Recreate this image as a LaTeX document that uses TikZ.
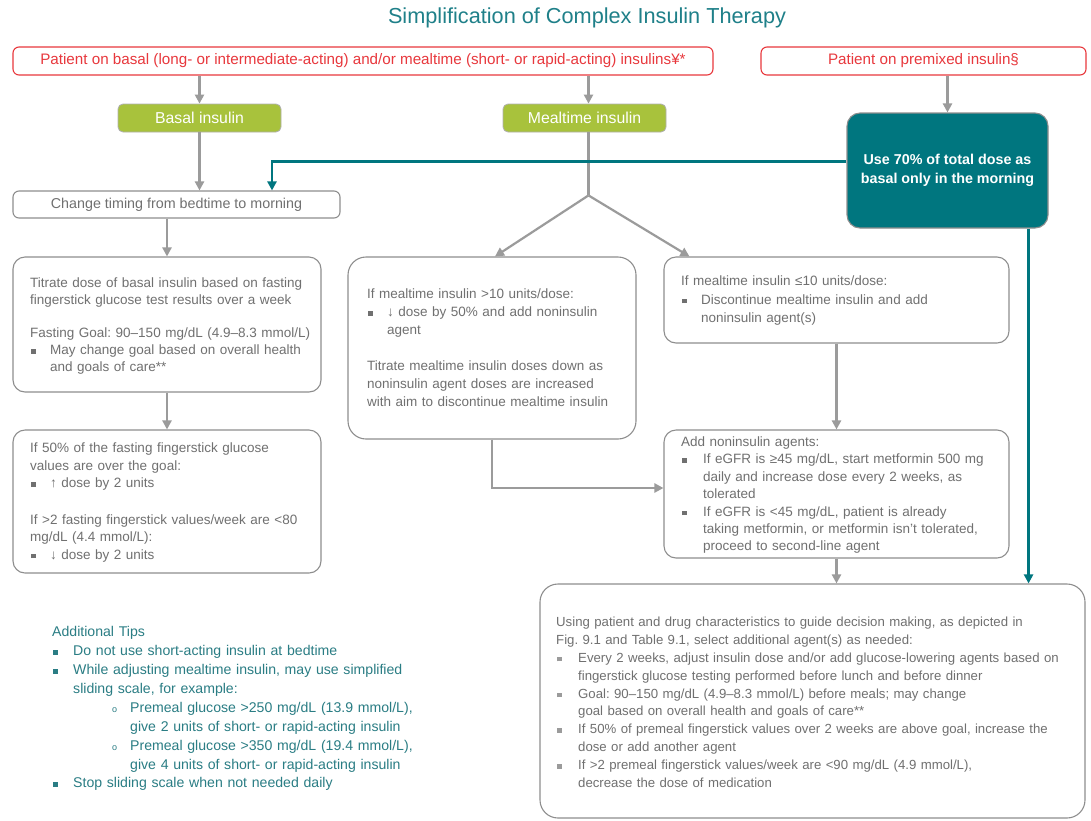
\documentclass[tikz,border=0pt]{standalone}
\usepackage{fontspec}
\setmainfont{Liberation Sans}
\usetikzlibrary{arrows.meta,calc}
\frenchspacing
\definecolor{tealc}{HTML}{00767F}
\definecolor{titlec}{HTML}{1F8089}
\definecolor{redc}{HTML}{E8383D}
\definecolor{greenc}{HTML}{A8C23C}
\definecolor{grayb}{HTML}{8E8E8E}
\definecolor{grayt}{HTML}{707070}
\definecolor{arrowc}{HTML}{9B9B9B}
\definecolor{tipc}{HTML}{2A7D84}
\newlength\bind
\setlength\bind{20pt}
\newcommand\bsq[1][grayt]{\textcolor{#1}{\rule[1pt]{4.5pt}{4.5pt}}}
\newcommand\bitem[2][grayt]{\par\hangindent=\bind\hangafter=1\noindent\makebox[\bind][l]{\hspace{1pt}\bsq[#1]}#2\par}
\newcommand\sitem[1]{\par\hangindent=78pt\hangafter=1\noindent\hspace*{60pt}\makebox[18pt][l]{\fontsize{9}{9}\selectfont o}#1\par}
\newcommand\bx[7]{\node[#1, minimum width={#5-#3}, minimum height={#6-#4}, inner sep=0pt] (#2) at ({(#3+#5)/2},{(#4+#6)/2}) {#7};}
\begin{document}
\begin{tikzpicture}[x=1pt,y=-1pt,
  gbox/.style={draw=grayb, line width=1.1pt, rounded corners=#1, fill=white},
  gbox/.default=12pt,
  rbox/.style={draw=redc, line width=1.1pt, rounded corners=6pt, fill=white, text=redc, font=\fontsize{15.2}{18}\selectfont},
  grbox/.style={draw=grayb!70, line width=0.8pt, rounded corners=5pt, fill=greenc, text=white, font=\fontsize{15.8}{18}\selectfont},
  tbox/.style={draw=grayb, line width=1.1pt, rounded corners=13pt, fill=tealc, text=white, align=center, font=\bfseries\fontsize{14.3}{19}\selectfont},
  txt/.style={anchor=north west, inner sep=0pt, text width=#1, align=left, text=grayt, execute at begin node={\setlength{\parindent}{0pt}}},
  arr/.style={draw=arrowc, line width=2.2pt, -{Triangle[width=9pt,length=9pt]}},
  tarr/.style={draw=tealc, line width=2.8pt, -{Triangle[width=9pt,length=9pt]}}
]
\useasboundingbox[fill=white] (0,0) rectangle (1091,820);

\node[text=titlec, font=\fontsize{21.7}{26}\selectfont] (title) at (587,18) {Simplification of Complex Insulin Therapy};

\bx{rbox}{A}{13}{47}{713}{75}{Patient on basal (long- or intermediate-acting) and/or mealtime (short- or rapid-acting) insulins¥*}
\bx{rbox}{B}{761}{47}{1086}{75}{Patient on premixed insulin§}
\bx{grbox}{basal}{118}{104}{281}{132}{Basal insulin}
\bx{grbox}{meal}{503}{104}{666}{132}{Mealtime insulin}
\bx{tbox}{teal}{847}{113}{1048}{228}{Use 70\% of total dose as\\basal only in the morning}
\bx{gbox=6pt, font=\fontsize{14.3}{16}\selectfont, text=grayt}{change}{13}{191}{340}{218}{Change timing from bedtime to morning}
\bx{gbox}{titrate}{13}{257}{321}{392}{}
\bx{gbox}{fifty}{13}{430}{321}{573}{}
\bx{gbox=18pt}{mid}{348}{257}{636}{439}{}
\bx{gbox}{right1}{664}{257}{1009}{343}{}
\bx{gbox}{add}{664}{430}{1009}{558}{}
\bx{gbox=18pt}{bottom}{540}{584}{1085}{818}{}

% texts
\node[txt=300pt, font=\fontsize{13.5}{17}\selectfont] (ttitrate) at (30,277.6) {Titrate dose of basal insulin based on fasting\newline fingerstick glucose test results over a week\par\vspace{16pt}Fasting Goal: 90–150 mg/dL (4.9–8.3 mmol/L)\bitem{May change goal based on overall health\newline and goals of care**}};

\node[txt=300pt, font=\fontsize{13.5}{17.5}\selectfont] (tfifty) at (30,442.6) {If 50\% of the fasting fingerstick glucose\newline values are over the goal:\bitem{↑ dose by 2 units}\vspace{19pt}If >2 fasting fingerstick values/week are <80\newline mg/dL (4.4 mmol/L):\bitem{↓ dose by 2 units}};

\node[txt=300pt, font=\fontsize{13.5}{18}\selectfont] (tmid) at (367,288.6) {If mealtime insulin >10 units/dose:\bitem{↓ dose by 50\% and add noninsulin\newline agent}\vspace{18pt}Titrate mealtime insulin doses down as\newline noninsulin agent doses are increased\newline with aim to discontinue mealtime insulin};

\node[txt=330pt, font=\fontsize{13.5}{18.5}\selectfont] (tright1) at (681,275.6) {If mealtime insulin ≤10 units/dose:\bitem{Discontinue mealtime insulin and add\newline noninsulin agent(s)}};

\node[txt=330pt, font=\fontsize{13.5}{17.4}\selectfont, execute at begin node={\setlength{\parindent}{0pt}\setlength{\bind}{22pt}}] (tadd) at (681,436.6) {Add noninsulin agents:\bitem{If eGFR is ≥45 mg/dL, start metformin 500 mg\newline daily and increase dose every 2 weeks, as\newline tolerated}\bitem{If eGFR is <45 mg/dL, patient is already\newline taking metformin, or metformin isn't tolerated,\newline proceed to second-line agent}};

\node[txt=520pt, font=\fontsize{13.2}{17.9}\selectfont, execute at begin node={\setlength{\parindent}{0pt}\setlength{\bind}{22pt}}] (tbottom) at (556,616.7) {Using patient and drug characteristics to guide decision making, as depicted in\newline Fig. 9.1 and Table 9.1, select additional agent(s) as needed:\bitem[grayt!70]{Every 2 weeks, adjust insulin dose and/or add glucose-lowering agents based on\newline fingerstick glucose testing performed before lunch and before dinner}\bitem[grayt!70]{Goal: 90–150 mg/dL (4.9–8.3 mmol/L) before meals; may change\newline goal based on overall health and goals of care**}\bitem[grayt!70]{If 50\% of premeal fingerstick values over 2 weeks are above goal, increase the\newline dose or add another agent}\bitem[grayt!70]{If >2 premeal fingerstick values/week are <90 mg/dL (4.9 mmol/L),\newline decrease the dose of medication}};

\node[txt=420pt, text=tipc, font=\fontsize{14.1}{18.9}\selectfont, execute at begin node={\setlength{\parindent}{0pt}\setlength{\bind}{21pt}}] (ttips) at (52,626.3) {Additional Tips\bitem[tipc]{Do not use short-acting insulin at bedtime}\bitem[tipc]{While adjusting mealtime insulin, may use simplified\newline sliding scale, for example:}\sitem{Premeal glucose >250 mg/dL (13.9 mmol/L),\newline give 2 units of short- or rapid-acting insulin}\sitem{Premeal glucose >350 mg/dL (19.4 mmol/L),\newline give 4 units of short- or rapid-acting insulin}\bitem[tipc]{Stop sliding scale when not needed daily}};

% connectors
\draw[arr] (A.south -| basal.north) -- (basal.north);
\draw[arr] ([xshift=4pt]A.south -| meal.north) -- ([xshift=4pt]meal.north);
\draw[arr] (B.south -| teal.north) -- (teal.north);
\draw[arr] (basal.south) -- (basal.south |- change.north);
\draw[arr] (titrate.north |- change.south) -- (titrate.north);
\draw[arr] (titrate.south) -- (fifty.north);
\coordinate (split) at ($(meal.south)+(4,63)$);
\draw[arr, -] ([xshift=4pt]meal.south) -- (split);
\draw[arr] (split) -- ($(mid.north)+(3,0)$);
\draw[arr] (split) -- ($(right1.north west)+(26,0)$);
\draw[arr] (right1.south) -- (add.north);
\draw[arr] (mid.south) |- ([yshift=6pt]add.west);
\draw[arr] (add.south) -- (add.south |- bottom.north);
\coordinate (tdrop) at (272,0);
\draw[tarr] ([yshift=9pt]teal.west) -| (tdrop |- change.north);
\draw[tarr] ([xshift=-20pt]teal.south east) -- ([xshift=-20pt]teal.south east |- bottom.north);
\end{tikzpicture}
\end{document}
